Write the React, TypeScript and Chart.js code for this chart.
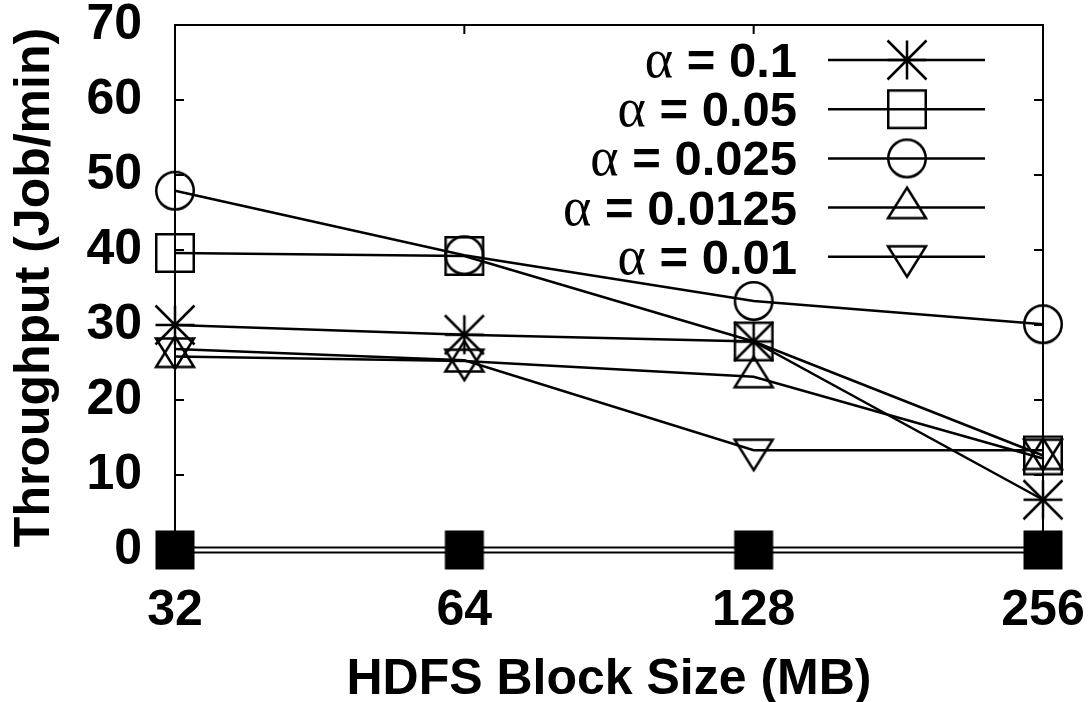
import React, { useEffect, useRef } from 'react';
import { Chart, registerables } from 'chart.js';

Chart.register(...registerables);

// ---- data ----
const blockSizes = ['32', '64', '128', '256'];
const alpha01 = [30.0, 28.7, 27.8, 6.7];
const alpha005 = [39.6, 39.2, 27.8, 12.6];
const alpha0025 = [47.9, 39.3, 33.2, 30.1];
const alpha00125 = [25.8, 25.2, 23.1, 12.2];
const alpha001 = [26.8, 25.3, 13.3, 13.3];
const baselineSeries = [0, 0, 0, 0];
const alphaValues = ['0.1', '0.05', '0.025', '0.0125', '0.01'];
const markerKinds = ['asterisk', 'box', 'circle', 'triUp', 'triDown'];
const yTickValues = [0, 10, 20, 30, 40, 50, 60, 70];

const SANS = "'Liberation Sans', Arial, Helvetica, sans-serif";
const SERIF = "'Liberation Serif', 'DejaVu Serif', serif";

function makeMarker(kind: string): HTMLCanvasElement {
  const size = 50;
  const c = size / 2;
  const cv = document.createElement('canvas');
  cv.width = size;
  cv.height = size;
  const ctx = cv.getContext('2d') as CanvasRenderingContext2D;
  ctx.strokeStyle = '#000';
  ctx.fillStyle = '#000';
  ctx.lineWidth = 2.5;
  ctx.lineJoin = 'miter';
  ctx.beginPath();
  if (kind === 'asterisk') {
    const s = 19.5;
    ctx.moveTo(c - s, c); ctx.lineTo(c + s, c);
    ctx.moveTo(c, c - s); ctx.lineTo(c, c + s);
    ctx.moveTo(c - s, c - s); ctx.lineTo(c + s, c + s);
    ctx.moveTo(c - s, c + s); ctx.lineTo(c + s, c - s);
    ctx.stroke();
  } else if (kind === 'box') {
    ctx.rect(c - 18.75, c - 18.75, 37.5, 37.5);
    ctx.stroke();
  } else if (kind === 'circle') {
    ctx.arc(c, c, 18.75, 0, Math.PI * 2);
    ctx.stroke();
  } else if (kind === 'triUp') {
    ctx.moveTo(c, c - 20);
    ctx.lineTo(c + 19, c + 10.5);
    ctx.lineTo(c - 19, c + 10.5);
    ctx.closePath();
    ctx.stroke();
  } else if (kind === 'triDown') {
    ctx.moveTo(c, c + 20);
    ctx.lineTo(c + 19, c - 10.5);
    ctx.lineTo(c - 19, c - 10.5);
    ctx.closePath();
    ctx.stroke();
  } else if (kind === 'filledBox') {
    ctx.fillRect(c - 19.5, c - 19.5, 39, 39);
  }
  return cv;
}

export default function App() {
  const ref = useRef<HTMLCanvasElement | null>(null);

  useEffect(() => {
    const canvas = ref.current;
    if (!canvas) return;
    const markers = markerKinds.map(makeMarker);
    const filledBox = makeMarker('filledBox');
    const seriesData = [alpha01, alpha005, alpha0025, alpha00125, alpha001];

    const framePlugin = {
      id: 'gnuFrame',
      beforeDatasetsDraw(chart: any) {
        const { ctx, chartArea: a, scales } = chart;
        const xs = scales.x;
        const ys = scales.y;
        ctx.save();
        ctx.strokeStyle = '#000';
        ctx.lineWidth = 2;
        ctx.strokeRect(a.left, a.top, a.right - a.left, a.bottom - a.top);
        ctx.beginPath();
        yTickValues.forEach((v) => {
          if (v === yTickValues[0] || v === yTickValues[yTickValues.length - 1]) return;
          const py = ys.getPixelForValue(v);
          ctx.moveTo(a.left, py); ctx.lineTo(a.left + 9, py);
          ctx.moveTo(a.right, py); ctx.lineTo(a.right - 9, py);
        });
        blockSizes.forEach((_, i) => {
          if (i === 0 || i === blockSizes.length - 1) return;
          const px = xs.getPixelForValue(i);
          ctx.moveTo(px, a.top); ctx.lineTo(px, a.top + 9);
          ctx.moveTo(px, a.bottom); ctx.lineTo(px, a.bottom - 9);
        });
        ctx.stroke();
        ctx.restore();
      },
    };

    const legendPlugin = {
      id: 'gnuLegend',
      afterDatasetsDraw(chart: any) {
        const { ctx } = chart;
        const textRight = 797;
        const lineL = 828;
        const lineR = 985;
        const markX = 907;
        const top = 60;
        const step = 49.2;
        ctx.save();
        alphaValues.forEach((val, i) => {
          const y = top + i * step;
          const boldText = ' = ' + val;
          ctx.font = `bold 49px ${SANS}`;
          const wb = ctx.measureText(boldText).width;
          ctx.font = `54px ${SERIF}`;
          const wa = ctx.measureText('α').width;
          ctx.fillStyle = '#000';
          ctx.textAlign = 'left';
          ctx.textBaseline = 'alphabetic';
          ctx.font = `54px ${SERIF}`;
          ctx.fillText('α', textRight - wb - wa, y + 17);
          ctx.font = `bold 49px ${SANS}`;
          ctx.fillText(boldText, textRight - wb, y + 17);
          ctx.strokeStyle = '#000';
          ctx.lineWidth = 2.5;
          ctx.beginPath();
          ctx.moveTo(lineL, y);
          ctx.lineTo(lineR, y);
          ctx.stroke();
          const m = markers[i];
          ctx.drawImage(m, markX - m.width / 2, y - m.height / 2);
        });
        ctx.restore();
      },
    };

    const tickFont = { family: SANS, size: 50, weight: 'bold' as const, lineHeight: 1 };
    const zeroPadding = (s: any) => {
      s.paddingTop = 0;
      s.paddingBottom = 0;
      s.paddingLeft = 0;
      s.paddingRight = 0;
    };

    const chart = new Chart(canvas, {
      type: 'line',
      data: {
        labels: blockSizes,
        datasets: [
          ...seriesData.map((d, i) => ({
            label: 'α = ' + alphaValues[i],
            data: d,
            borderColor: '#000',
            backgroundColor: '#000',
            borderWidth: 2.5,
            pointStyle: markers[i] as any,
            pointRadius: 20,
            pointHoverRadius: 20,
            fill: false,
            tension: 0,
            clip: false as any,
          })),
          {
            label: 'zero-markers',
            data: baselineSeries,
            showLine: false,
            borderColor: '#000',
            backgroundColor: '#000',
            borderWidth: 0,
            pointStyle: filledBox as any,
            pointRadius: 20,
            pointHoverRadius: 20,
            clip: false as any,
          },
          {
            label: 'zero-inner',
            data: baselineSeries,
            borderColor: '#fff',
            borderWidth: 3,
            pointRadius: 0,
            clip: false as any,
          },
          {
            label: 'zero-outer',
            data: baselineSeries,
            borderColor: '#000',
            borderWidth: 7,
            pointRadius: 0,
            clip: false as any,
          },
        ],
      },
      options: {
        animation: false,
        responsive: false,
        devicePixelRatio: 1,
        events: [],
        layout: { padding: { left: 0, top: 25, right: 45, bottom: 0 } },
        plugins: {
          legend: { display: false },
          tooltip: { enabled: false },
        },
        scales: {
          x: {
            type: 'category',
            offset: false,
            grid: { display: false },
            border: { display: false },
            ticks: { font: tickFont, color: '#000', padding: 28, maxRotation: 0, autoSkip: false },
            title: {
              display: true,
              text: 'HDFS Block Size (MB)',
              color: '#000',
              font: { family: SANS, size: 50, weight: 'bold', lineHeight: 1 },
              padding: { top: 0, bottom: -3 },
            },
            afterFit: (s: any) => { s.height = 152; zeroPadding(s); },
          },
          y: {
            type: 'linear',
            min: 0,
            max: 70,
            grid: { display: false },
            border: { display: false },
            ticks: { font: tickFont, color: '#000', padding: 25, stepSize: 10 },
            title: {
              display: true,
              text: 'Throughput (Job/min)',
              color: '#000',
              font: { family: SANS, size: 50, weight: 'bold', lineHeight: 1 },
              padding: { top: 10, bottom: 0 },
            },
            afterFit: (s: any) => { s.width = 175; zeroPadding(s); },
          },
        },
      } as any,
      plugins: [framePlugin, legendPlugin],
    });

    return () => chart.destroy();
  }, []);

  return (
    <div style={{ position: 'absolute', left: 0, top: 0, width: 1088, height: 702, background: '#fff' }}>
      <canvas ref={ref} width={1088} height={702} style={{ width: 1088, height: 702, display: 'block' }} />
    </div>
  );
}
